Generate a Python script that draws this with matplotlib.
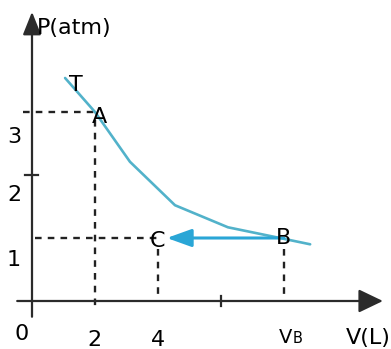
import matplotlib
matplotlib.use("Agg")
import matplotlib.pyplot as plt

# Data
curve_v = [1.05, 2.0, 3.11, 4.54, 6.22, 7.87, 8.83]
curve_p = [3.54, 3.0, 2.21, 1.52, 1.17, 1.0, 0.90]
point_names = ["A", "B", "C"]
point_v = [2, 8, 4]
point_p = [3, 1, 1]
x_tick_labels = ["2", "4"]
x_tick_vals = [2, 4]
y_tick_labels = ["1", "2", "3"]
y_tick_vals = [1, 2, 3]

plt.rcParams['font.family'] = ['DejaVu Sans']

fig = plt.figure(figsize=(3.91, 3.49), dpi=100)
ax = fig.add_axes([0, 0, 1, 1])
ax.set_xlim(-1.016, 11.397)
ax.set_ylim(-0.762, 4.778)
ax.axis('off')

axis_col = '#2b2b2b'
# x axis
ax.annotate('', xy=(11.14, 0), xytext=(-0.47, 0),
            arrowprops=dict(arrowstyle='-|>,head_length=0.75,head_width=0.36',
                            color=axis_col, lw=1.6, mutation_scale=20, shrinkA=0, shrinkB=0))
# y axis
ax.annotate('', xy=(0, 4.59), xytext=(0, -0.25),
            arrowprops=dict(arrowstyle='-|>,head_length=0.7,head_width=0.28',
                            color=axis_col, lw=1.6, mutation_scale=20, shrinkA=0, shrinkB=0))
# ticks
ax.plot([-0.22, 0.2], [2, 2], color=axis_col, lw=1.6)
ax.plot([6, 6], [-0.08, 0.08], color=axis_col, lw=1.6)

# dashed guide lines
dash = dict(color='#222222', lw=1.7, linestyle=(0, (2.8, 2.6)))
A = (point_v[0], point_p[0]); B = (point_v[1], point_p[1]); C = (point_v[2], point_p[2])
ax.plot([-0.3, A[0]], [A[1], A[1]], **dash)
ax.plot([A[0], A[0]], [A[1] - 0.12, -0.08], **dash)
ax.plot([0.1, C[0]], [C[1], C[1]], **dash)
ax.plot([C[0], C[0]], [C[1] - 0.18, 0], **dash)
ax.plot([B[0], B[0]], [B[1] - 0.18, 0], **dash)

# curve
ax.plot(curve_v, curve_p, color='#52b2ca', lw=1.9, solid_capstyle='round')

# process arrow B -> C
ax.annotate('', xy=(C[0] + 0.28, C[1]), xytext=(B[0], B[1]),
            arrowprops=dict(arrowstyle='-|>,head_length=0.75,head_width=0.27',
                            color='#2aa6d6', lw=2.2, mutation_scale=20, shrinkA=0, shrinkB=0))

fs = 16
# point labels
ax.text(1.4, 3.43, "T", fontsize=fs, ha='center', va='center')
ax.text(2.15, 2.92, "A", fontsize=fs, ha='center', va='center')
ax.text(3.97, 0.95, "C", fontsize=fs, ha='center', va='center')
ax.text(7.97, 1.0, "B", fontsize=fs, ha='center', va='center')

# axis labels
ax.text(0.17, 4.33, "P(atm)", fontsize=fs, ha='left', va='center')
ax.text(10.68, -0.59, "V(L)", fontsize=fs, ha='center', va='center')
ax.text(-0.32, -0.52, "0", fontsize=fs, ha='center', va='center')

x_label_pos = [1.97, 4.0]
for v, lab, xp in zip(x_tick_vals, x_tick_labels, x_label_pos):
    ax.text(xp, -0.62, lab, fontsize=fs, ha='center', va='center')
# V_B label (V with small B on same baseline)
ax.text(8.27, -0.67, "V", fontsize=14, ha='right', va='baseline')
ax.text(8.27, -0.67, "B", fontsize=10.5, ha='left', va='baseline')

y_label_pos = [0.65, 1.68, 2.60]
for v, lab, yp in zip(y_tick_vals, y_tick_labels, y_label_pos):
    ax.text(-0.57, yp, lab, fontsize=fs, ha='center', va='center')

fig.savefig("out.png", dpi=100, facecolor='white')
